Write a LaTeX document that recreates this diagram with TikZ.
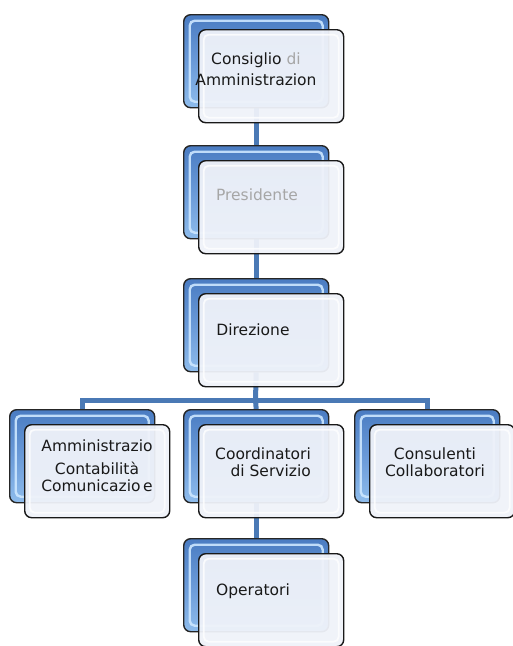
\documentclass[tikz,border=0pt]{standalone}
\usepackage{fontspec}
\setmainfont{DejaVu Sans}
\usetikzlibrary{calc}
\definecolor{connc}{HTML}{4A79B5}
\definecolor{bluebox}{HTML}{6A9AD8}
\definecolor{bluetop}{HTML}{4A7CC2}
\definecolor{bluebot}{HTML}{8EBCEC}
\definecolor{bluehi}{HTML}{CDE7FF}
\definecolor{frontfill}{HTML}{EFF2F9}
\definecolor{greytext}{HTML}{A6A6A6}
\pgfdeclarelayer{bg}\pgfsetlayers{bg,main}
\begin{document}
\begin{tikzpicture}[x=1pt,y=-1pt,
  backbox/.style={draw=black!85, line width=1.4pt, rounded corners=7pt,
    minimum width=145pt, minimum height=93pt, inner sep=0pt, anchor=north west,
    top color=bluetop, bottom color=bluebot, middle color=bluebox,
    path picture={\draw[bluehi, line width=2.4pt, opacity=0.9, rounded corners=5pt]
      ([shift={(6pt,-6pt)}]path picture bounding box.north west) rectangle
      ([shift={(-6pt,6pt)}]path picture bounding box.south east);}},
  frontbox/.style={draw=black!90, line width=1.4pt, rounded corners=7pt,
    minimum width=145pt, minimum height=93pt, inner sep=0pt, anchor=north west,
    fill=frontfill, fill opacity=0.95,
    path picture={\draw[white, line width=1.8pt, opacity=0.8, rounded corners=5pt]
      ([shift={(5pt,-5pt)}]path picture bounding box.north west) rectangle
      ([shift={(-5pt,5pt)}]path picture bounding box.south east);}},
  lbl/.style={font=\fontsize{15.5}{21}\selectfont, inner sep=0pt, anchor=north,
    align=center, text=black!90},
  lbltight/.style={lbl, font=\fontsize{15.5}{17}\selectfont},
  connline/.style={draw=connc, line width=5pt}
]
\useasboundingbox (0,0) rectangle (512,646);

% boxes
\node[backbox] (b1) at (183,14) {};
\node[frontbox] (f1) at (198,29) {};
\node[backbox] (b2) at (183,145) {};
\node[frontbox] (f2) at (198,160) {};
\node[backbox] (b3) at (183,278) {};
\node[frontbox] (f3) at (198,293) {};
\node[backbox] (b4) at (9,409) {};
\node[frontbox] (f4) at (24,424) {};
\node[backbox] (b5) at (183,409) {};
\node[frontbox] (f5) at (198,424) {};
\node[backbox] (b6) at (354,409) {};
\node[frontbox] (f6) at (369,424) {};
\node[backbox] (b7) at (183,538) {};
\node[frontbox] (f7) at (198,553) {};

% texts
\node[lbl] (t1) at (256,52.5) {Consiglio {\color{greytext}di}\\Amministrazion};
\node[lbl, text=greytext] (t2) at (257,189) {Presidente};
\node[lbl] (t3) at (253,323.5) {Direzione};
\node[lbl] (t4) at (97,440) {Amministrazio\\[2pt]Contabilità\\[-4pt]Comunicazio\,e};
\node[lbltight, anchor=north east, align=right] (t5) at (311,447.5) {Coordinatori\\di Servizio};
\node[lbltight] (t6) at (435,448) {Consulenti\\Collaboratori};
\node[lbl] (t7) at (253,583.5) {Operatori};

% connectors
\coordinate (bar) at (255.5,400);
\begin{pgfonlayer}{bg}
\draw[connline] (b1.south) -- (b2.north);
\draw[connline] (b2.south) -- (b3.north);
\draw[connline] (b3.south) -- (bar);
\draw[connline] (b4.north) |- (bar) -| (b6.north);
\draw[connline] (bar) -- (b5.north);
\draw[connline] (b5.south) -- (b7.north);
\end{pgfonlayer}
\end{tikzpicture}
\end{document}
